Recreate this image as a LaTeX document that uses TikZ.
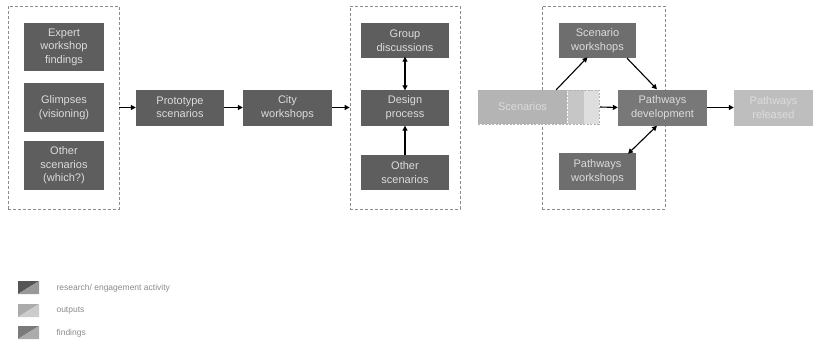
\documentclass[tikz,border=0pt]{standalone}
\usepackage{fontspec}
\setmainfont{Liberation Sans}
\usetikzlibrary{arrows.meta}
\definecolor{actgray}{HTML}{5E5E5E}
\definecolor{wsgray}{HTML}{6E6E6E}
\definecolor{devgray}{HTML}{787878}
\definecolor{outgray}{HTML}{B4B4B4}
\definecolor{relgray}{HTML}{BEBEBE}
\definecolor{stripa}{HTML}{C6C6C6}
\definecolor{stripb}{HTML}{DEDEDE}
\definecolor{txtgray}{HTML}{DCDCDC}
\definecolor{framegray}{HTML}{8A8A8A}
\tikzset{
  box/.style={inner sep=0pt, align=center, text=txtgray,
    font=\fontsize{11}{13.5}\selectfont},
  frame/.style={draw=framegray, line width=0.8pt, dash pattern=on 3pt off 2pt, inner sep=0pt},
  legtext/.style={anchor=west, text=black!45, font=\fontsize{8.5}{10}\selectfont},
  link/.style={line width=1.1pt, -{Triangle[length=5pt,width=5pt]}},
  twolink/.style={line width=1.1pt, {Triangle[length=5pt,width=5pt]}-{Triangle[length=5pt,width=5pt]}}
}
\begin{document}
\begin{tikzpicture}[x=1pt,y=-1pt]
  \useasboundingbox[fill=white] (0,0) rectangle (814,345);

  % Dashed groups
  \node[frame, minimum width=111pt, minimum height=203pt] (lgrp) at (63.5,107.5) {};
  \node[frame, minimum width=110pt, minimum height=203pt] (mgrp) at (405,107.5) {};
  \node[frame, minimum width=123pt, minimum height=203pt] (rgrp) at (603.5,107.5) {};

  % Left group
  \node[box, fill=actgray, minimum width=80pt, minimum height=48pt] (expert) at (64,47) {Expert\\workshop\\findings};
  \node[box, fill=actgray, minimum width=80pt, minimum height=49pt] (glimpse) at (64,107.5) {Glimpses\\(visioning)};
  \node[box, fill=actgray, minimum width=80pt, minimum height=49pt] (otherl) at (64,165.5) {Other\\scenarios\\(which?)};

  \node[box, fill=actgray, minimum width=88pt, minimum height=36pt] (proto) at (180,107.5) {Prototype\\scenarios};
  \node[box, fill=actgray, minimum width=89pt, minimum height=36pt] (city) at (287.5,107.5) {City\\workshops};

  % Middle group
  \node[box, fill=actgray, minimum width=88pt, minimum height=35pt] (group) at (405,40.5) {Group\\discussions};
  \node[box, fill=actgray, minimum width=88pt, minimum height=36pt] (design) at (405,107.5) {Design\\process};
  \node[box, fill=actgray, minimum width=88pt, minimum height=35pt] (otherm) at (405,172.5) {Other\\scenarios};

  % Scenarios with strips
  \node[box, fill=outgray, minimum width=89pt, minimum height=34pt] (scen) at (522.5,107) {Scenarios};
  \node[fill=stripa, inner sep=0pt, minimum width=17pt, minimum height=34pt] (strip1) at (575.5,107) {};
  \node[fill=stripb, inner sep=0pt, minimum width=15pt, minimum height=34pt] (strip2) at (591.5,107) {};
  \draw[white, line width=0.8pt, dash pattern=on 2pt off 1.5pt] (scen.north east) -- (scen.south east);
  \draw[stripb!80!black, line width=0.6pt, dash pattern=on 2pt off 1.5pt] (scen.north west) rectangle (strip2.south east);

  % Right group
  \node[box, fill=wsgray, minimum width=77pt, minimum height=35pt] (scenws) at (597.5,40.5) {Scenario\\workshops};
  \node[box, fill=devgray, minimum width=89pt, minimum height=36pt] (pathdev) at (662.5,107.5) {Pathways\\development};
  \node[box, fill=wsgray, minimum width=77pt, minimum height=37pt] (pathws) at (597.5,171.5) {Pathways\\workshops};
  \node[box, fill=relgray, minimum width=79pt, minimum height=36pt] (released) at (773.5,107.5) {Pathways\\released};

  % Connectors
  \draw[link] (lgrp) -- (proto);
  \draw[link] (proto) -- (city);
  \draw[link] (city) -- (mgrp);
  \draw[twolink] ([yshift=1.5pt]group.south) -- ([yshift=-1pt]design.north);
  \draw[link] (otherm) -- (design);
  \draw[link] ([xshift=-11pt]scen.north east) -- ([xshift=-10pt,yshift=1pt]scenws.south);
  \draw[link] ([xshift=29.5pt]scenws.south) -- ([xshift=-5.5pt]pathdev.north);
  \draw[link] ([xshift=1pt]strip2.east) -- (pathdev.west);
  \draw[twolink] ([xshift=-5.5pt]pathdev.south) -- ([xshift=30.5pt,yshift=-1pt]pathws.north);
  \draw[link] (pathdev) -- (released);

  % Legend
  \fill[actgray!90!black] (18,281) -- (39,281) -- (18,294) -- cycle;
  \fill[black!40] (39,281) -- (39,294) -- (18,294) -- cycle;
  \fill[black!33] (18,304) -- (39,304) -- (18,317) -- cycle;
  \fill[black!20] (39,304) -- (39,317) -- (18,317) -- cycle;
  \fill[black!52] (18,326) -- (39,326) -- (18,339) -- cycle;
  \fill[black!33] (39,326) -- (39,339) -- (18,339) -- cycle;
  \node[legtext] (legact) at (53,288) {research/ engagement activity};
  \node[legtext] (legout) at (53,310.5) {outputs};
  \node[legtext] (legfind) at (53,333) {findings};
\end{tikzpicture}
\end{document}
